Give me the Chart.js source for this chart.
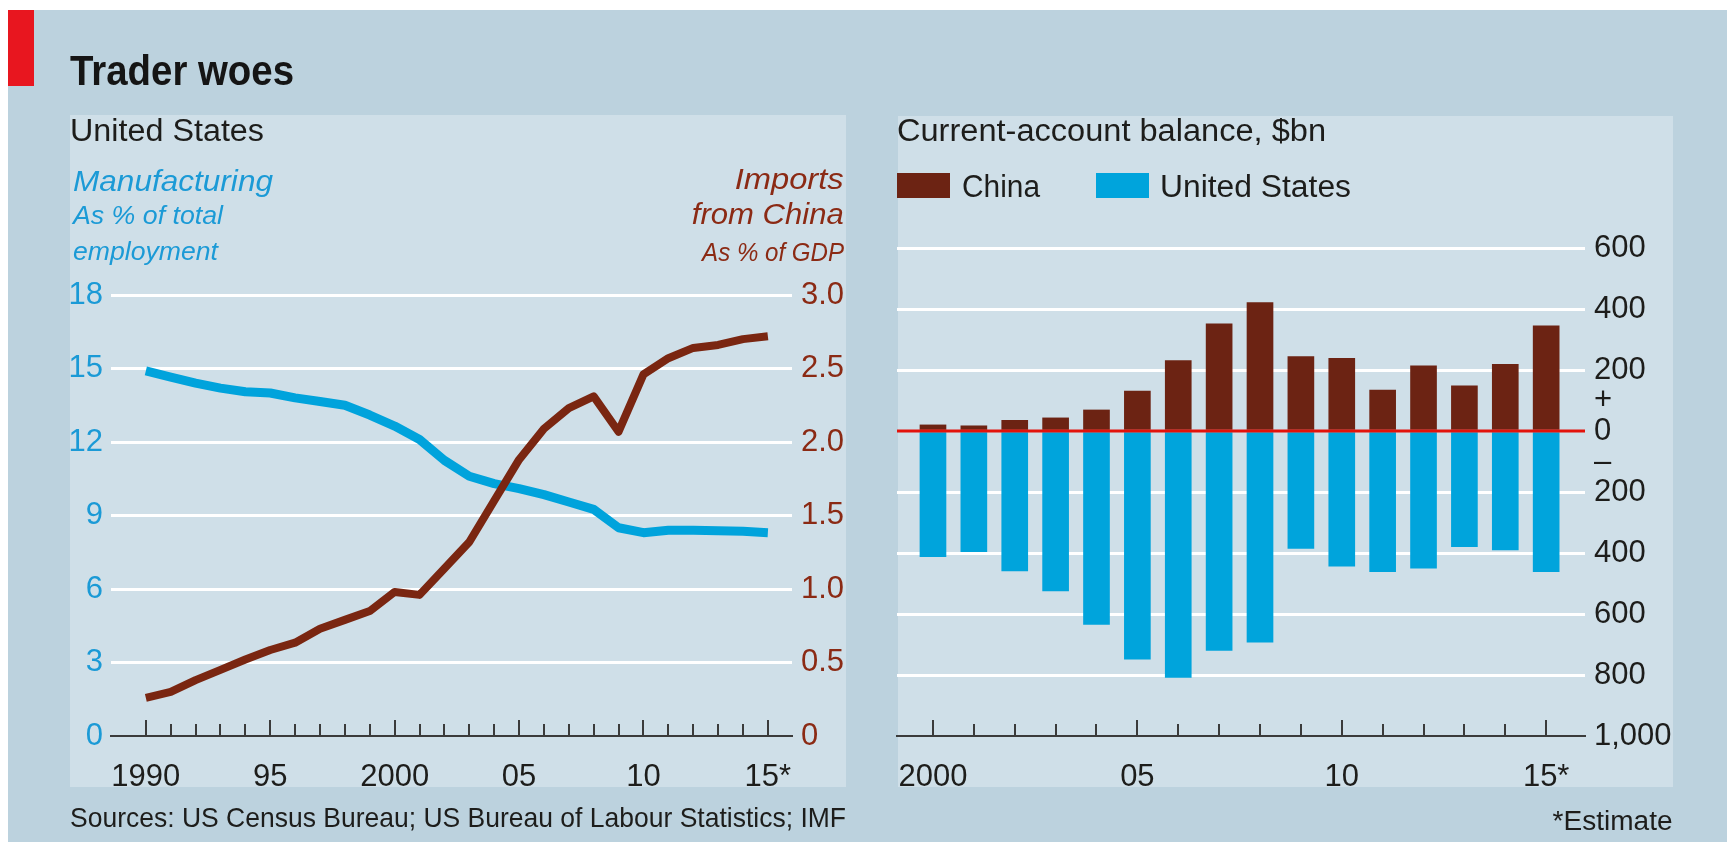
<!DOCTYPE html>
<html><head><meta charset="utf-8">
<script src="https://cdn.jsdelivr.net/npm/chart.js@4.4.1/dist/chart.umd.min.js"></script>
<style>
html,body{margin:0;padding:0;background:#fff;}
body{width:1727px;height:842px;position:relative;overflow:hidden;font-family:"Liberation Sans",Arial,sans-serif;}
#outer{position:absolute;left:8px;top:10px;right:0;bottom:0;background:#bcd2de;}
#redbar{position:absolute;left:8px;top:10px;width:26px;height:76px;background:#e8161f;}
.panel{position:absolute;background:#cfdfe8;}
.t{position:absolute;white-space:nowrap;line-height:1;z-index:5;}
.sw{position:absolute;z-index:5;}
canvas{position:absolute;top:0;z-index:3;}
</style></head><body>
<div id="outer"></div><div id="redbar"></div>
<div class="panel" style="left:70px;top:115px;width:776px;height:672px"></div>
<div class="panel" style="left:898px;top:116px;width:775px;height:671px"></div>
<canvas id="left" width="870" height="842" style="left:0"></canvas>
<canvas id="right" width="857" height="842" style="left:870px"></canvas>

<div class="t fit" data-w="224" style="left:70px;top:50.4px;font-size:42px;font-weight:bold;color:#151515">Trader woes</div>
<div class="t fit" data-w="194" style="left:70px;top:114.8px;font-size:31px;color:#1d1d1b">United States</div>
<div class="t fit" data-w="200" style="left:73px;top:166.5px;font-size:29px;font-style:italic;color:#1b9ad6">Manufacturing</div>
<div class="t fit" data-w="150" style="left:73px;top:201.6px;font-size:26.5px;font-style:italic;color:#1b9ad6">As % of total</div>
<div class="t fit" data-w="145" style="left:73px;top:237.6px;font-size:26.5px;font-style:italic;color:#1b9ad6">employment</div>
<div class="t fit r" data-w="109" style="right:883px;top:164.5px;font-size:29px;font-style:italic;color:#8b2a14">Imports</div>
<div class="t fit r" data-w="152" style="right:883px;top:199.5px;font-size:29px;font-style:italic;color:#8b2a14">from China</div>
<div class="t fit r" data-w="142" style="right:883px;top:238.6px;font-size:26.5px;font-style:italic;color:#8b2a14">As % of GDP</div>
<div class="t fit" data-w="776" style="left:70px;top:804.3px;font-size:28px;color:#1d1d1b">Sources: US Census Bureau; US Bureau of Labour Statistics; IMF</div>
<div class="t fit" data-w="429" style="left:897px;top:114.8px;font-size:31px;color:#1d1d1b">Current-account balance, $bn</div>
<div class="t fit r" data-w="120" style="right:54px;top:807.6px;font-size:27px;color:#1d1d1b">*Estimate</div>
<div id="legend"></div>

<script>
// ---- data ----
const yearsL = [1990,1991,1992,1993,1994,1995,1996,1997,1998,1999,2000,2001,2002,2003,2004,2005,2006,2007,2008,2009,2010,2011,2012,2013,2014,2015];
const manufacturing = [14.9,14.65,14.4,14.2,14.05,14.0,13.8,13.65,13.5,13.1,12.65,12.1,11.25,10.6,10.3,10.1,9.85,9.55,9.25,8.5,8.3,8.4,8.4,8.38,8.36,8.3];
const importsChina = [0.26,0.30,0.38,0.45,0.52,0.585,0.635,0.73,0.79,0.85,0.98,0.96,1.14,1.32,1.6,1.88,2.09,2.23,2.31,2.07,2.46,2.57,2.64,2.66,2.70,2.72];
const labelYearsL = [1990,1995,2000,2005,2010,2015];
const labelTextL = ['1990','95','2000','05','10','15*'];
const leftTicks = [0,3,6,9,12,15,18];
const rightTicksL = [0,0.5,1.0,1.5,2.0,2.5,3.0];

const yearsR = [2000,2001,2002,2003,2004,2005,2006,2007,2008,2009,2010,2011,2012,2013,2014,2015];
const chinaCA = [20,17,35,43,69,131,231,351,421,244,238,134,214,148,219,345];
const usCA = [-412,-396,-459,-524,-634,-748,-808,-719,-692,-385,-443,-461,-450,-379,-390,-461];
const labelYearsR = [2000,2005,2010,2015];
const labelTextR = ['2000','05','10','15*'];
const ticksR = [600,400,200,0,-200,-400,-600,-800,-1000];

// ---- styles ----
const BLUE = '#00a3dc', BLUE_T = '#1b9ad6', BROWN = '#7a2611', BROWN_T = '#8b2a14';
const CHINA = '#6c2313', USC = '#00a4dc', RED = '#e3120b', AXIS = '#3b3b3b', DARK = '#1d1d1b';
Chart.defaults.font.family = '"Liberation Sans", Arial, sans-serif';

const upTicks = {
  id: 'upTicks',
  afterDatasetsDraw(chart, args, opts) {
    const {ctx, chartArea, scales} = chart;
    const x = scales.x;
    ctx.save();
    ctx.strokeStyle = AXIS; ctx.lineWidth = 2;
    opts.years.forEach(v => {
      const px = Math.round(x.getPixelForValue(v));
      const len = opts.major.includes(v) ? 16 : 12;
      ctx.beginPath(); ctx.moveTo(px, chartArea.bottom); ctx.lineTo(px, chartArea.bottom - len); ctx.stroke();
    });
    ctx.restore();
  }
};
const zeroLine = {
  id: 'zeroLine',
  afterDatasetsDraw(chart) {
    const {ctx, chartArea: a, scales: {y}} = chart;
    const py = y.getPixelForValue(0);
    ctx.save(); ctx.strokeStyle = RED; ctx.lineWidth = 3;
    ctx.beginPath(); ctx.moveTo(a.left, py); ctx.lineTo(a.right, py); ctx.stroke(); ctx.restore();
  }
};

new Chart(document.getElementById('left'), {
  type: 'line',
  data: { datasets: [
    { label: 'Imports from China', yAxisID: 'y1', order: 0,
      data: yearsL.map((yr, i) => ({x: yr, y: importsChina[i]})),
      borderColor: BROWN, borderWidth: 8, pointRadius: 0, tension: 0, borderJoinStyle: 'round', borderCapStyle: 'butt' },
    { label: 'Manufacturing', yAxisID: 'y', order: 1,
      data: yearsL.map((yr, i) => ({x: yr, y: manufacturing[i]})),
      borderColor: BLUE, borderWidth: 9, pointRadius: 0, tension: 0, borderJoinStyle: 'round', borderCapStyle: 'butt' }
  ]},
  options: {
    responsive: false, animation: false, events: [],
    layout: { padding: { top: 295, left: 0, right: 0, bottom: 0 } },
    plugins: { legend: { display: false }, tooltip: { enabled: false },
      upTicks: { years: yearsL, major: labelYearsL } },
    scales: {
      x: { type: 'linear', min: 1988.6, max: 2015.97,
        afterBuildTicks: s => { s.ticks = labelYearsL.map(v => ({value: v})); },
        afterFit: s => { s.height = 106; },
        grid: { display: false, drawTicks: false },
        border: { display: true, color: AXIS, width: 2 },
        ticks: { padding: 23, color: DARK, font: { size: 31 }, maxRotation: 0, autoSkip: false,
          callback: v => labelTextL[labelYearsL.indexOf(v)] } },
      y: { position: 'left', min: 0, max: 18,
        afterBuildTicks: s => { s.ticks = leftTicks.map(v => ({value: v})); },
        afterFit: s => { s.width = 111; },
        ticks: { padding: 8, color: BLUE_T, font: { size: 31 }, autoSkip: false },
        grid: { color: c => c.tick && c.tick.value === 0 ? 'rgba(0,0,0,0)' : '#ffffff', lineWidth: 3, drawTicks: false },
        border: { display: false } },
      y1: { position: 'right', min: 0, max: 3,
        afterBuildTicks: s => { s.ticks = rightTicksL.map(v => ({value: v})); },
        afterFit: s => { s.width = 78; },
        ticks: { padding: 9, color: BROWN_T, font: { size: 31 }, autoSkip: false, callback: v => v === 0 ? '0' : v.toFixed(1) },
        grid: { display: false, drawTicks: false },
        border: { display: false } }
    }
  },
  plugins: [upTicks]
});

const chartR = new Chart(document.getElementById('right'), {
  type: 'bar',
  data: { datasets: [
    { label: 'China', data: yearsR.map((yr, i) => ({x: yr, y: chinaCA[i]})),
      backgroundColor: CHINA, grouped: false, barThickness: 26, borderWidth: 0 },
    { label: 'United States', data: yearsR.map((yr, i) => ({x: yr, y: usCA[i]})),
      backgroundColor: USC, grouped: false, barThickness: 26, borderWidth: 0 }
  ]},
  options: {
    responsive: false, animation: false, events: [],
    layout: { padding: { top: 248, left: 27, right: 0, bottom: 0 } },
    plugins: { legend: { display: false }, tooltip: { enabled: false },
      upTicks: { years: yearsR, major: labelYearsR } },
    scales: {
      x: { type: 'linear', min: 1999.12, max: 2015.95, offset: false,
        afterBuildTicks: s => { s.ticks = labelYearsR.map(v => ({value: v})); },
        afterFit: s => { s.height = 106; },
        grid: { display: false, drawTicks: false, offset: false },
        border: { display: true, color: AXIS, width: 2 },
        ticks: { padding: 23, color: DARK, font: { size: 31 }, maxRotation: 0, autoSkip: false,
          callback: v => labelTextR[labelYearsR.indexOf(v)] } },
      y: { position: 'right', min: -1000, max: 600,
        afterBuildTicks: s => { s.ticks = ticksR.map(v => ({value: v})); },
        afterFit: s => { s.width = 142; },
        ticks: { padding: 9, color: DARK, font: { size: 31, lineHeight: 1.0 }, autoSkip: false,
          callback: v => v === 0 ? ['+', '0', '–'] : Math.abs(v).toLocaleString('en-US') },
        grid: { color: c => c.tick && (c.tick.value === 0 || c.tick.value === -1000) ? 'rgba(0,0,0,0)' : '#ffffff', lineWidth: 3, drawTicks: false },
        border: { display: false } }
    }
  },
  plugins: [upTicks, zeroLine]
});

// HTML legend from the chart's own legend items
const legendSw = [897, 1096], legendTx = [962, 1160], legendW = [78, 191];
const items = Chart.defaults.plugins.legend.labels.generateLabels(chartR);
const lg = document.getElementById('legend');
items.forEach((it, i) => {
  const sw = document.createElement('div');
  sw.className = 'sw';
  sw.style.cssText = `left:${legendSw[i]}px;top:173px;width:53px;height:25px;background:${it.fillStyle}`;
  lg.appendChild(sw);
  const tx = document.createElement('div');
  tx.className = 't fit';
  tx.dataset.w = legendW[i];
  tx.style.cssText = `left:${legendTx[i]}px;top:170.8px;font-size:31px;color:${DARK}`;
  tx.textContent = it.text;
  lg.appendChild(tx);
});

function fitAll() {
  document.querySelectorAll('.fit').forEach(el => {
    el.style.transform = 'none';
    const w = el.getBoundingClientRect().width;
    const s = parseFloat(el.dataset.w) / w;
    el.style.transformOrigin = el.classList.contains('r') ? 'right top' : 'left top';
    el.style.transform = `scaleX(${s})`;
  });
}
fitAll();
if (document.fonts && document.fonts.ready) document.fonts.ready.then(fitAll);
</script>
</body></html>
